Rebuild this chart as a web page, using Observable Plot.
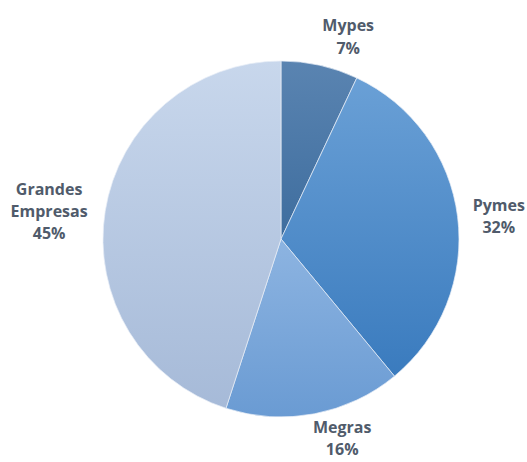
<!DOCTYPE html>
<html>
<head>
<meta charset="utf-8">
<script src="https://cdn.jsdelivr.net/npm/d3@7"></script>
<script src="https://cdn.jsdelivr.net/npm/@observablehq/plot@0.6"></script>
<style>
  html, body { margin: 0; padding: 0; background: #fff; }
  #chart svg { display: block; }
</style>
</head>
<body>
<div id="chart"></div>
<script>
// ---- data ----
const categories = ["Mypes", "Pymes", "Megras", "Grandes\nEmpresas"];
const values = [7, 32, 16, 45];
const valueLabels = ["7%", "32%", "16%", "45%"];

// ---- styles / layout ----
const gradTop = ["#5a84b1", "#6aa0d6", "#8db4e1", "#c8d7ec"];
const gradBottom = ["#3e6d9e", "#3a7bbe", "#6a9bd3", "#a6bad8"];
const labelRadius = 1.1;
// pixel nudges from the mid-angle anchor to the label block center
const labelNudge = [[24, -13], [23, 0], [24, 5], [-39, 1]];

const W = 527, H = 462, CX = 281, CY = 239, R = 178;

const pie = d3.pie().sort(null).value(d => d.value)(
  categories.map((c, i) => ({category: c, value: values[i], label: valueLabels[i], i}))
);

const labels = pie.map(a => {
  const mid = (a.startAngle + a.endAngle) / 2;
  const [nx, ny] = labelNudge[a.data.i];
  return {
    text: a.data.category + "\n" + a.data.label,
    x: labelRadius * Math.sin(mid) + nx / R,
    y: labelRadius * Math.cos(mid) - ny / R
  };
});

function pieMark(index, scales, values, dimensions) {
  const g = d3.create("svg:g");
  const defs = g.append("defs");
  pie.forEach(a => {
    const lg = defs.append("linearGradient")
      .attr("id", "pg" + a.data.i)
      .attr("x1", 0).attr("y1", 0).attr("x2", 0).attr("y2", 1);
    lg.append("stop").attr("offset", "0%").attr("stop-color", gradTop[a.data.i]);
    lg.append("stop").attr("offset", "100%").attr("stop-color", gradBottom[a.data.i]);
  });
  const cx = scales.x(0), cy = scales.y(0);
  const r = scales.x(1) - scales.x(0);
  const arc = d3.arc().innerRadius(0).outerRadius(r);
  g.append("g")
    .attr("transform", `translate(${cx},${cy})`)
    .selectAll("path")
    .data(pie)
    .join("path")
    .attr("d", arc)
    .attr("fill", d => `url(#pg${d.data.i})`)
    .attr("stroke", "#e8eef7")
    .attr("stroke-width", 0.7)
    .attr("stroke-linejoin", "round");
  return g.node();
}

const chart = Plot.plot({
  width: W,
  height: H,
  margin: 0,
  x: {domain: [-CX / R, (W - CX) / R], range: [0, W], axis: null},
  y: {domain: [-(H - CY) / R, CY / R], range: [H, 0], axis: null},
  style: {background: "#fff"},
  marks: [
    pieMark,
    Plot.text(labels, {
      x: "x", y: "y", text: "text",
      textAnchor: "middle",
      lineAnchor: "middle",
      lineHeight: 1.4,
      fontSize: 16,
      fontWeight: 700,
      fontFamily: "'Open Sans', sans-serif",
      fill: "#505b6b"
    })
  ]
});
document.getElementById("chart").appendChild(chart);
</script>
</body>
</html>
